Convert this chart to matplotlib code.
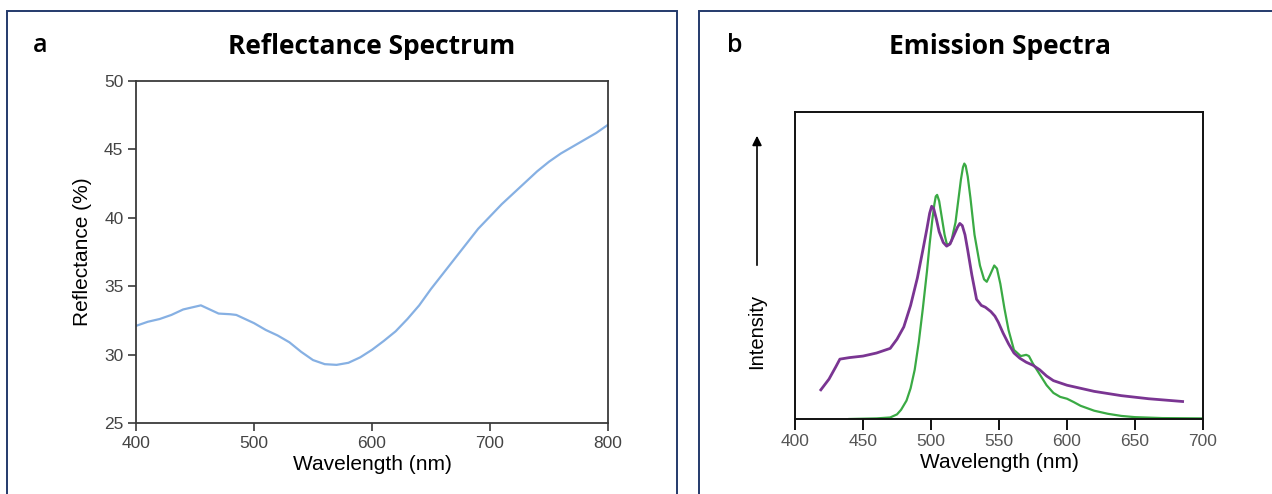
import matplotlib.pyplot as plt
from matplotlib.patches import Rectangle

# panel a: reflectance spectrum
refl_nm = [400, 410, 420, 430, 440, 450, 455, 460, 470, 480, 485, 490, 500, 510, 520,
           530, 540, 550, 560, 570, 580, 590, 600, 610, 620, 630, 640, 650, 660, 670,
           680, 690, 700, 710, 720, 730, 740, 750, 760, 770, 780, 790, 800]
refl_pct = [32.1, 32.4, 32.6, 32.9, 33.3, 33.5, 33.6, 33.4, 33.0, 32.95, 32.9, 32.7, 32.3,
            31.8, 31.4, 30.9, 30.2, 29.6, 29.3, 29.25, 29.4, 29.8, 30.35, 31.0, 31.7,
            32.6, 33.6, 34.8, 35.9, 37.0, 38.1, 39.2, 40.1, 41.0, 41.8, 42.6, 43.4,
            44.1, 44.7, 45.2, 45.7, 46.2, 46.8]

# panel b: emission spectra (arbitrary intensity)
green_nm = [440, 460, 470, 475, 478, 482, 485, 488, 491, 494, 497, 499, 501, 502.5, 503.5,
            504.5, 506, 508, 510, 511.5, 513, 515, 518, 520, 522, 523.5, 524.5, 525.5,
            527, 529, 532, 536, 539, 541, 543.5, 546.5, 548.5, 551, 554, 557, 561, 566,
            570, 572, 575, 580, 585, 590, 595, 600, 605, 610, 620, 630, 640, 650, 670, 700]
green_int = [0.0, 0.002, 0.005, 0.015, 0.03, 0.06, 0.1, 0.16, 0.25, 0.36, 0.48, 0.57,
             0.65, 0.70, 0.725, 0.73, 0.71, 0.655, 0.6, 0.572, 0.567, 0.58, 0.64, 0.71,
             0.78, 0.82, 0.832, 0.825, 0.79, 0.72, 0.6, 0.5, 0.455, 0.447, 0.47, 0.50,
             0.49, 0.44, 0.36, 0.29, 0.225, 0.205, 0.209, 0.205, 0.18, 0.145, 0.11, 0.085,
             0.072, 0.066, 0.055, 0.043, 0.027, 0.017, 0.01, 0.006, 0.003, 0.002]

purple_nm = [419, 425, 430, 433, 440, 450, 460, 470, 475, 480, 485, 490, 494, 497, 499,
             500.5, 502, 504, 506, 509, 511.5, 514, 517, 519.5, 521.2, 523, 525, 527, 530,
             533.5, 537, 540, 544, 547, 549.5, 553, 557, 561, 565.3, 570, 575, 580, 585,
             590, 600, 610, 620, 640, 660, 685]
purple_int = [0.095, 0.13, 0.17, 0.195, 0.2, 0.205, 0.215, 0.23, 0.26, 0.3, 0.37, 0.46,
              0.55, 0.62, 0.67, 0.693, 0.685, 0.65, 0.61, 0.575, 0.563, 0.57, 0.6, 0.625,
              0.637, 0.63, 0.6, 0.55, 0.47, 0.39, 0.37, 0.364, 0.35, 0.335, 0.315, 0.28,
              0.245, 0.215, 0.198, 0.185, 0.175, 0.16, 0.14, 0.125, 0.11, 0.1, 0.09,
              0.076, 0.066, 0.057]

plt.rcParams["font.family"] = ["Liberation Sans", "DejaVu Sans"]

fig = plt.figure(figsize=(12.72, 4.94), dpi=100)

border = "#243a6b"
fig.patches.append(Rectangle((7 / 1272, -0.05), 670 / 1272, 1.05 - 11 / 494,
                             transform=fig.transFigure, fill=False,
                             edgecolor=border, linewidth=1.4))
fig.patches.append(Rectangle((699 / 1272, -0.05), 600 / 1272, 1.05 - 11 / 494,
                             transform=fig.transFigure, fill=False,
                             edgecolor=border, linewidth=1.4))

# --- panel a
ax_a = fig.add_axes([136 / 1272, 71 / 494, 472 / 1272, 342 / 494])
ax_a.plot(refl_nm, refl_pct, color="#86b0e3", linewidth=1.6)
ax_a.set_xlim(400, 800)
ax_a.set_ylim(25, 50)
ax_a.set_xticks([400, 500, 600, 700, 800])
ax_a.set_yticks([25, 30, 35, 40, 45, 50])
for s in ax_a.spines.values():
    s.set_color("#3a3a3a")
    s.set_linewidth(1.3)
ax_a.tick_params(direction="out", length=6, width=1.2, color="#3a3a3a",
                 labelsize=12.5, labelcolor="#444444", pad=3)
ax_a.set_xlabel("Wavelength (nm)", fontsize=15, labelpad=3)
ax_a.set_ylabel("Reflectance (%)", fontsize=15, labelpad=9)

fig.text(372 / 1272, 1 - 46 / 494, "Reflectance Spectrum", ha="center", va="center",
         fontsize=19, fontweight="bold", family=["Open Sans", "DejaVu Sans"])
fig.text(40 / 1272, 1 - 46 / 494, "a", ha="center", va="center",
         fontsize=18, fontweight="semibold", family=["Open Sans", "DejaVu Sans"])

# --- panel b
ax_b = fig.add_axes([795 / 1272, 75 / 494, 408 / 1272, 307 / 494])
ax_b.plot(green_nm, green_int, color="#3aaa44", linewidth=1.6)
ax_b.plot(purple_nm, purple_int, color="#7a3592", linewidth=2.0)
ax_b.set_xlim(400, 700)
ax_b.set_ylim(0, 1)
ax_b.set_xticks([400, 450, 500, 550, 600, 650, 700])
ax_b.set_yticks([])
for s in ax_b.spines.values():
    s.set_color("#111111")
    s.set_linewidth(1.4)
ax_b.tick_params(axis="x", direction="out", length=8, width=1.4, color="#111111",
                 labelsize=12.5, labelcolor="#555555", pad=3)
ax_b.set_xlabel("Wavelength (nm)", fontsize=15, labelpad=3)

fig.text(757 / 1272, 1 - 331 / 494, "Intensity", rotation=90, ha="center", va="center",
         fontsize=14.5)
ax_b.annotate("", xy=(757 / 1272, 1 - 133 / 494), xytext=(757 / 1272, 1 - 268 / 494),
              xycoords="figure fraction", textcoords="figure fraction",
              arrowprops=dict(arrowstyle="-|>", color="black", lw=1.2,
                              mutation_scale=14))

fig.text(1000 / 1272, 1 - 46 / 494, "Emission Spectra", ha="center", va="center",
         fontsize=19, fontweight="bold", family=["Open Sans", "DejaVu Sans"])
fig.text(735 / 1272, 1 - 46 / 494, "b", ha="center", va="center",
         fontsize=18, fontweight="semibold", family=["Open Sans", "DejaVu Sans"])

fig.savefig("out.png", dpi=100)
